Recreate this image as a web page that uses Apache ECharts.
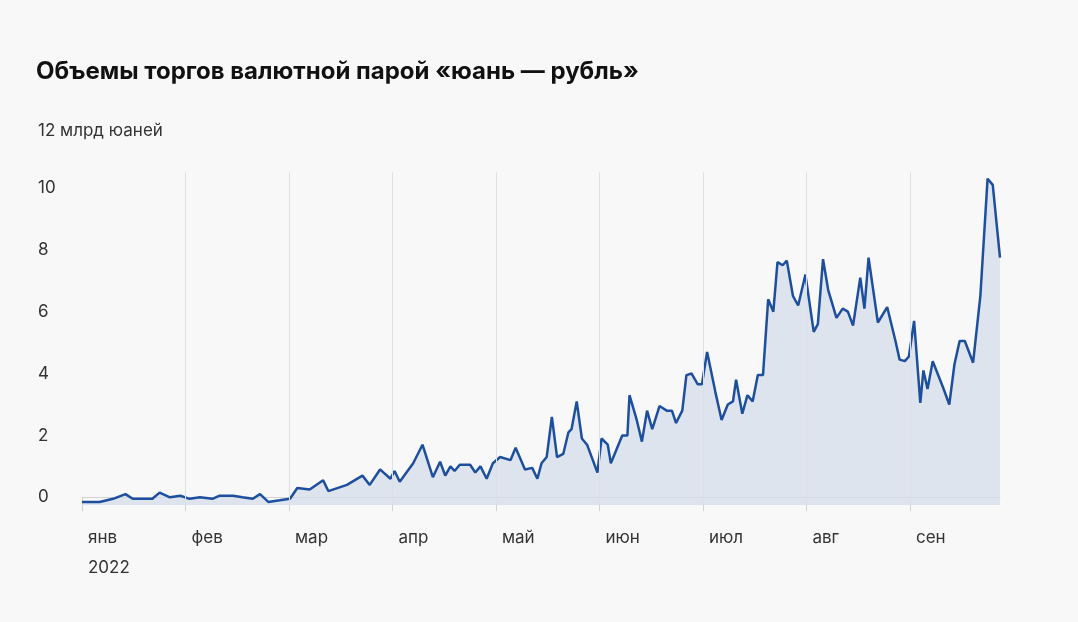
<!DOCTYPE html>
<html><head><meta charset="utf-8">
<script src="https://cdn.jsdelivr.net/npm/echarts@6/dist/echarts.min.js"></script>
<style>html,body{margin:0;background:#f8f8f8}#c{width:1078px;height:622px}</style>
</head><body><div id="c"></div>
<script>
const monthLabels = ['янв\n2022','фев','мар','апр','май','июн','июл','авг','сен'];
const yTicks = [0,2,4,6,8,10];
// x: position in months since 1 Jan 2022; y: bn yuan
const monthPos = [0,0.17,0.30,0.42,0.49,0.68,0.75,0.85,0.95,1.04,1.14,1.26,1.33,1.46,1.55,1.65,1.72,1.80,1.91,2.01,2.08,2.20,2.33,2.38,2.56,2.71,2.78,2.88,2.98,3.02,3.07,3.20,3.29,3.39,3.46,3.51,3.56,3.60,3.65,3.75,3.80,3.85,3.91,3.97,4.04,4.14,4.19,4.28,4.35,4.40,4.44,4.49,4.54,4.59,4.65,4.70,4.73,4.78,4.83,4.88,4.98,5.02,5.08,5.11,5.22,5.27,5.29,5.36,5.41,5.46,5.51,5.58,5.65,5.70,5.74,5.80,5.84,5.89,5.95,5.99,6.04,6.12,6.18,6.24,6.29,6.32,6.38,6.43,6.48,6.53,6.58,6.63,6.68,6.72,6.77,6.81,6.87,6.92,6.99,7.07,7.11,7.16,7.21,7.29,7.35,7.40,7.45,7.52,7.56,7.60,7.69,7.78,7.86,7.90,7.95,7.99,8.04,8.10,8.13,8.17,8.22,8.32,8.38,8.43,8.48,8.53,8.61,8.68,8.75,8.80,8.87];
const volume = [-0.15,-0.15,-0.05,0.1,-0.05,-0.05,0.15,0,0.05,-0.05,0,-0.05,0.05,0.05,0,-0.05,0.1,-0.15,-0.1,-0.05,0.3,0.25,0.55,0.2,0.4,0.7,0.4,0.9,0.6,0.85,0.5,1.1,1.7,0.65,1.15,0.7,1.0,0.85,1.05,1.05,0.8,1.0,0.6,1.1,1.3,1.2,1.6,0.9,0.95,0.6,1.1,1.3,2.6,1.3,1.4,2.1,2.2,3.1,1.9,1.7,0.8,1.9,1.7,1.1,2.0,2.0,3.3,2.5,1.8,2.8,2.2,2.95,2.8,2.8,2.4,2.8,3.95,4.0,3.65,3.65,4.7,3.4,2.5,3.0,3.1,3.8,2.7,3.3,3.1,3.95,3.95,6.4,6.0,7.6,7.5,7.65,6.5,6.2,7.2,5.35,5.6,7.7,6.7,5.8,6.1,6.0,5.55,7.1,6.1,7.75,5.65,6.15,5.05,4.45,4.4,4.55,5.7,3.05,4.1,3.5,4.4,3.55,3.0,4.3,5.05,5.05,4.35,6.5,10.3,10.1,7.75];
const chart = echarts.init(document.getElementById('c'));
chart.setOption({
  backgroundColor:'#f8f8f8',
  animation:false,
  title:[{text:'Объемы торгов валютной парой «юань — рубль»',left:31,top:55,textStyle:{fontFamily:'Inter',fontWeight:'bold',fontSize:24,color:'#111'}},
         {text:'12 млрд юаней',left:33,top:117,textStyle:{fontFamily:'Inter',fontWeight:'normal',fontSize:17,color:'#333'}}],
  grid:{left:82,right:78,top:172.5,bottom:117},
  xAxis:{type:'value',min:0,max:8.87,
    axisLine:{show:true,lineStyle:{color:'#d2d2d2'}},
    axisTick:{show:true,length:14,customValues:[0,1,2,3,4,5,6,7,8],lineStyle:{color:'#d2d2d2'}},
    splitLine:{show:false},
    axisLabel:{customValues:[0,1,2,3,4,5,6,7,8],formatter:v=>monthLabels[Math.round(v)],align:'left',margin:18,padding:[0,0,0,6],lineHeight:30,fontFamily:'Inter',fontSize:17,color:'#333'}},
  yAxis:{type:'value',min:-0.25,max:10.5,
    axisLine:{show:false},axisTick:{show:false},splitLine:{show:false},
    axisLabel:{customValues:yTicks,align:'left',margin:44,fontFamily:'Inter',fontSize:17,color:'#333'}},
  series:[{type:'line',data:monthPos.map((m,i)=>[m,volume[i]]),symbol:'none',
    lineStyle:{color:'#1d4f9e',width:2.5},
    areaStyle:{color:'#d3dcea',origin:'start'},
    markLine:{silent:true,symbol:'none',label:{show:false},lineStyle:{color:'#dcdfe5',width:1,type:'solid'},
      data:[1,2,3,4,5,6,7,8].map(v=>({xAxis:v}))}}]
});
</script></body></html>
